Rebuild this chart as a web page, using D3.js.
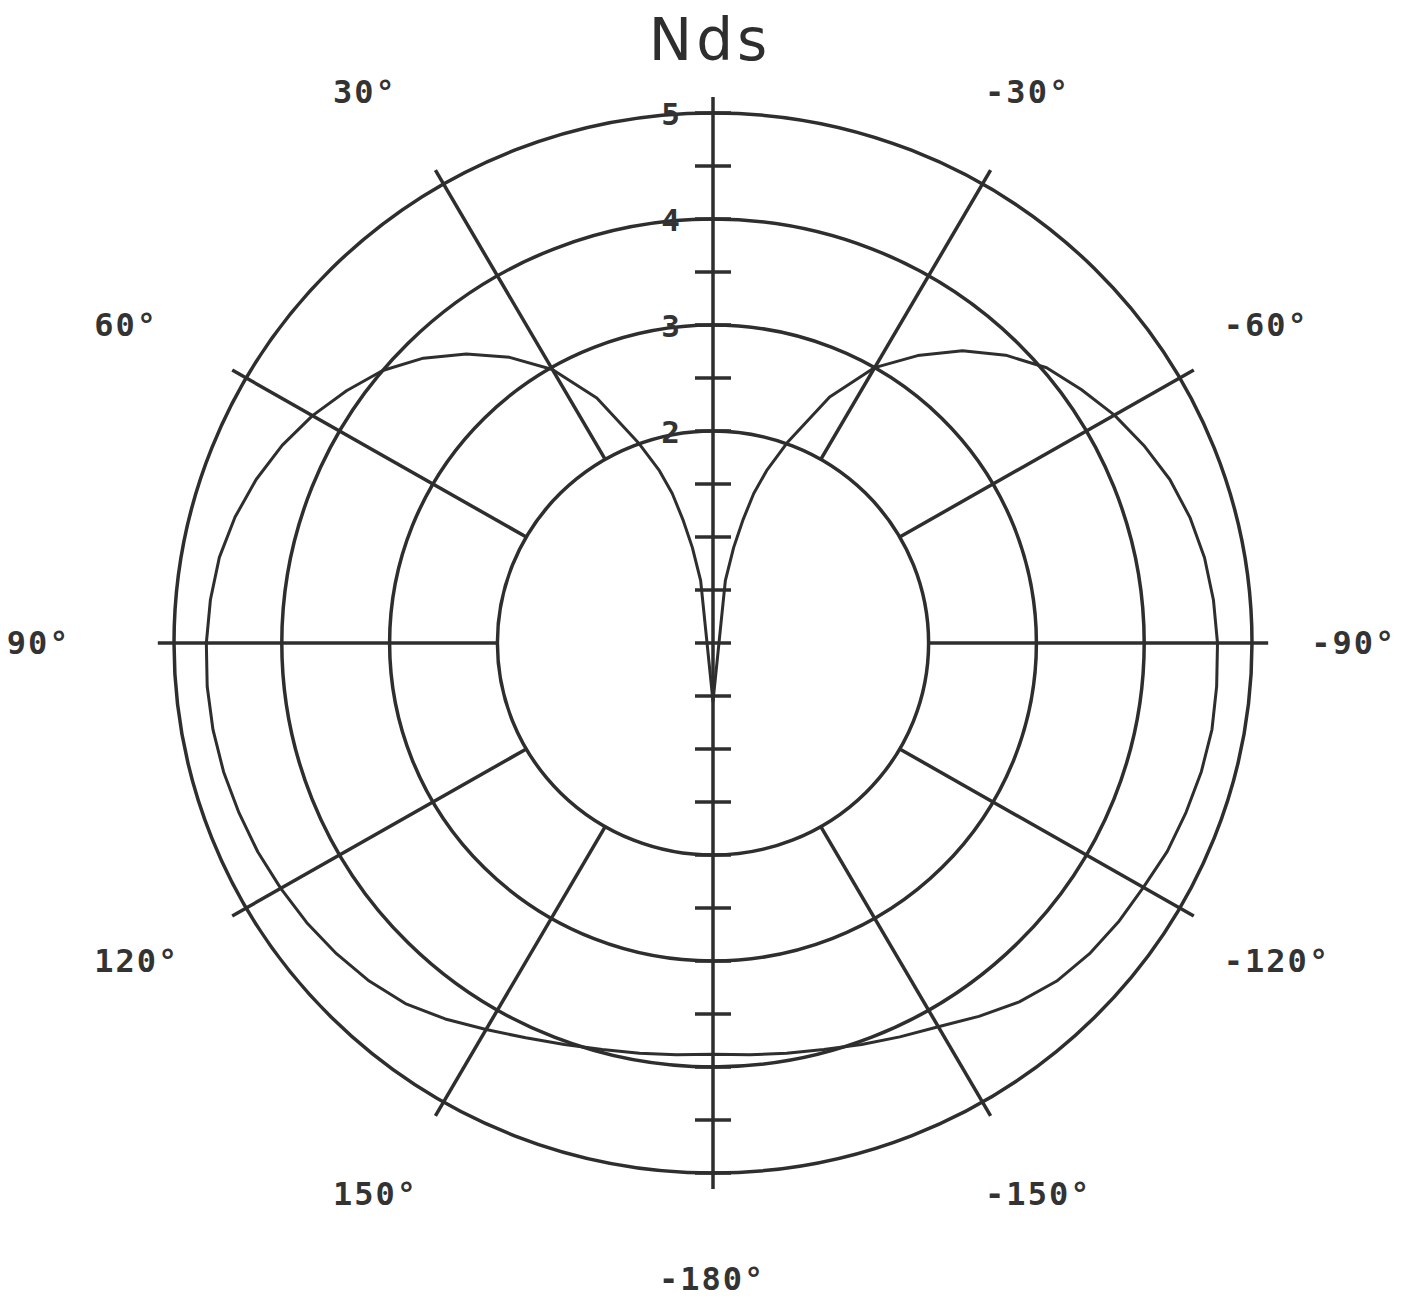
<!DOCTYPE html>
<html>
<head>
	<title>Nds polar plot</title>
	<script src="https://d3js.org/d3.v7.min.js"></script>
	<style>
		body{
			margin: 0;
			background: #fff;
		}
		.lbl{
			font-family: 'DejaVu Sans Mono', monospace;
			font-weight: bold;
			fill: #333;
		}
	</style>
</head>
<body>
	<script>
		// values (angle in degrees, 0 at top, positive to the left)
		var angleDeg = [-180,-175,-170,-165,-160,-155,-150,-145,-140,-135,-130,-125,-120,-115,-110,-105,-100,-95,-90,-85,-80,-75,-70,-65,-60,-55,-50,-45,-40,-35,-30,-25,-20,-17,-15,-13.5,-12,-11,
			0,
			11,12,13.5,15,17,20,25,30,35,40,45,50,55,60,65,70,75,80,85,90,95,100,105,110,115,120,125,130,135,140,145,150,155,160,165,170,175,180]
		var ndsValue = [3.88,3.90,3.93,3.97,4.03,4.10,4.18,4.30,4.42,4.51,4.56,4.59,4.61,4.65,4.67,4.69,4.70,4.69,4.68,4.66,4.63,4.58,4.51,4.41,4.30,4.17,4.04,3.84,3.60,3.31,3.00,2.56,2.01,1.70,1.46,1.20,0.92,0.60,
			-0.55,
			0.60,0.92,1.20,1.46,1.70,2.00,2.55,2.98,3.29,3.56,3.80,4.00,4.15,4.29,4.41,4.51,4.59,4.65,4.68,4.70,4.71,4.71,4.70,4.68,4.66,4.63,4.60,4.56,4.51,4.44,4.33,4.21,4.11,4.03,3.97,3.93,3.90,3.88]

		var ringValues = [2, 3, 4, 5]
		var ringLabels = ['2', '3', '4', '5']
		var spokeAngles = [30, 60, 90, 120, 150, -30, -60, -90, -120, -150]
		var labelAngles = [30, 60, 90, 120, 150, -30, -60, -90, -120, -150, -180]
		var labelTexts = ['30°', '60°', '90°', '120°', '150°', '-30°', '-60°', '-90°', '-120°', '-150°', '-180°']
		var tickValues = [-5,-4.5,-4,-3.5,-3,-2.5,-2,-1.5,-1,-0.5,0,0.5,1,1.5,2,2.5,3,3.5,4,4.5,5]

		var W = 1411, H = 1301
		var cx = 713, cy = 643
		var ink = '#2e2e2e'

		var x = d3.scaleLinear().domain([-5, 5]).range([cx - 539, cx + 539])
		var y = d3.scaleLinear().domain([-5, 5]).range([cy + 530, cy - 530])

		var rad = a => a * Math.PI / 180
		var px = (a, r) => x(-r * Math.sin(rad(a)))
		var py = (a, r) => y(r * Math.cos(rad(a)))

		var svg = d3.select('body').append('svg')
			.attr('width', W)
			.attr('height', H)

		svg.append('rect').attr('width', W).attr('height', H).attr('fill', '#fff')

		// rings
		svg.selectAll('ellipse.ring').data(ringValues).enter()
			.append('ellipse')
			.attr('class', 'ring')
			.attr('cx', x(0))
			.attr('cy', y(0))
			.attr('rx', d => x(d) - x(0))
			.attr('ry', d => y(0) - y(d))
			.attr('fill', 'none')
			.attr('stroke', ink)
			.attr('stroke-width', 3.5)

		// spokes from inner ring outwards
		svg.selectAll('line.spoke').data(spokeAngles).enter()
			.append('line')
			.attr('x1', d => px(d, 2))
			.attr('y1', d => py(d, 2))
			.attr('x2', d => px(d, 5.15))
			.attr('y2', d => py(d, 5.15))
			.attr('stroke', ink)
			.attr('stroke-width', 3.5)

		// vertical axis with ticks
		svg.append('line')
			.attr('x1', x(0)).attr('y1', y(5.15))
			.attr('x2', x(0)).attr('y2', y(-5.15))
			.attr('stroke', ink)
			.attr('stroke-width', 3.5)
		svg.selectAll('line.tick').data(tickValues).enter()
			.append('line')
			.attr('x1', x(0) - 18).attr('x2', x(0) + 18)
			.attr('y1', d => y(d)).attr('y2', d => y(d))
			.attr('stroke', ink)
			.attr('stroke-width', 3.5)
		svg.selectAll('text.rl').data(ringValues).enter()
			.append('text')
			.attr('class', 'lbl')
			.attr('x', x(0) - 33)
			.attr('y', d => y(d) + 1)
			.attr('text-anchor', 'end')
			.attr('dominant-baseline', 'central')
			.style('font-size', '31px')
			.text((d, i) => ringLabels[i])

		// data curve
		var pts = angleDeg.map((a, i) => [px(a, ndsValue[i]), py(a, ndsValue[i])])
		svg.append('path')
			.attr('d', d3.line()(pts))
			.attr('fill', 'none')
			.attr('stroke', ink)
			.attr('stroke-width', 3)
			.attr('stroke-linejoin', 'round')

		// angle labels, plotter style: start of text a fixed step left of the anchor point
		svg.selectAll('text.al').data(labelAngles).enter()
			.append('text')
			.attr('class', 'lbl')
			.attr('x', d => px(d, 6.05) - 54)
			.attr('y', d => py(d, 6.0))
			.attr('text-anchor', 'start')
			.attr('dominant-baseline', 'central')
			.style('font-size', '32px')
			.style('letter-spacing', '2px')
			.text((d, i) => labelTexts[i])

		svg.append('text')
			.attr('x', 710)
			.attr('y', 60)
			.attr('text-anchor', 'middle')
			.style('font-family', "'DejaVu Sans', sans-serif")
			.style('font-size', '58px')
			.style('letter-spacing', '4px')
			.attr('fill', ink)
			.text('Nds')
	</script>
</body>
</html>
